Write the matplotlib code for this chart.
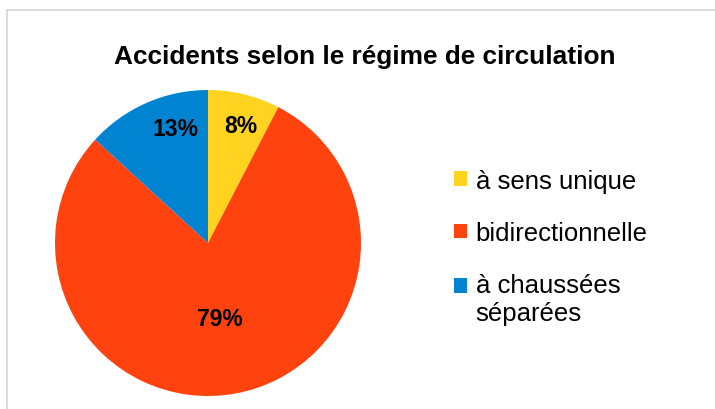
import matplotlib.pyplot as plt
import matplotlib.patches as mpatches
import numpy as np

plt.rcParams['font.family'] = ['Liberation Sans', 'DejaVu Sans']

# donnees
categories = ['à sens unique', 'bidirectionnelle', 'à chaussées\nséparées']
parts = [7.6, 79.2, 13.2]
couleurs = ['#FFD320', '#FF420E', '#0084D1']
titre = 'Accidents selon le régime de circulation'

W, H = 715, 410
fig = plt.figure(figsize=(W / 100, H / 100), dpi=100)

# cadre gris clair (coupe a droite et en bas)
cadre = mpatches.Rectangle((7 / W, -0.1), 1.2, 1 - 11 / H + 0.1, transform=fig.transFigure,
                           fill=False, edgecolor='#d4d4d4', linewidth=1.2, clip_on=False)
fig.patches.append(cadre)

cx, cy, r = 208, 244, 153
ax = fig.add_axes([(cx - r) / W, (H - cy - r) / H, 2 * r / W, 2 * r / H])

wedges, texts, autotexts = ax.pie(parts, colors=couleurs, startangle=90, counterclock=False,
                                  autopct='%.0f%%', pctdistance=0.8, radius=1,
                                  wedgeprops=dict(linewidth=0),
                                  textprops=dict(fontsize=16.5, fontweight='bold', color='black'))
# placement des etiquettes comme dans LibreOffice
dist = [0.80, 0.50, 0.78]
decal = [-2, -1, -8]
for w, t, d, a in zip(wedges, autotexts, dist, decal):
    ang = np.deg2rad((w.theta1 + w.theta2) / 2 + a)
    t.set_position((d * np.cos(ang), d * np.sin(ang)))
ax.set_xlim(-1, 1)
ax.set_ylim(-1, 1)

fig.text(365 / W, 1 - 57 / H, titre, ha='center', va='center', fontsize=18.9, fontweight='bold')

leg = ax.legend(wedges, categories, loc='upper left', bbox_to_anchor=(441 / W, 1 - 157 / H),
                bbox_transform=fig.transFigure, frameon=False, fontsize=18.5,
                handlelength=0.5, handleheight=0.5, handletextpad=0.35, labelspacing=1.1,
                borderpad=0)
# carre de la derniere entree aligne sur la premiere ligne
h = leg.legend_handles[2]
h.set_y(h.get_y() + 10)

fig.savefig('out.png', dpi=100)
